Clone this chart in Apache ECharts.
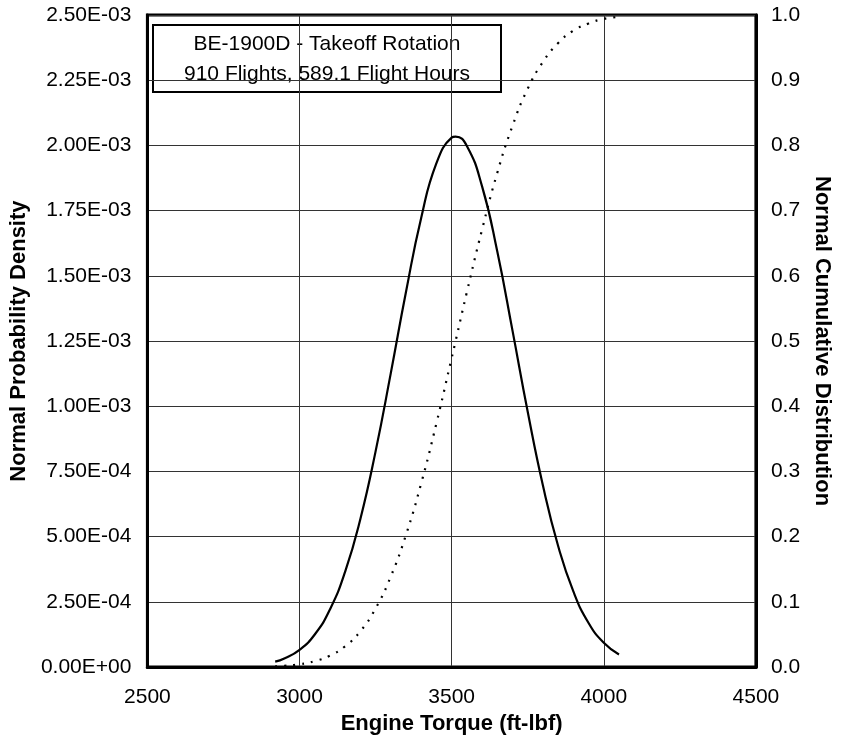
<!DOCTYPE html>
<html>
<head>
<meta charset="utf-8">
<script src="https://cdn.jsdelivr.net/npm/echarts@6/dist/echarts.min.js"></script>
<style>html,body{margin:0;padding:0;background:#fff;}#c{width:841px;height:740px;}</style>
</head>
<body>
<div id="c"></div>
<script>
// Engine torque sample points (ft-lbf)
const torque = [2920, 2950, 3000, 3050, 3100, 3150, 3200, 3250, 3300, 3350, 3400, 3450, 3500, 3513, 3550, 3600, 3650, 3700, 3750, 3800, 3850, 3900, 3950, 4000, 4050];
// Normal probability density
const pdf = [2.1e-5, 3.3e-5, 6.6e-5, 1.25e-4, 2.21e-4, 3.66e-4, 5.68e-4, 8.27e-4, 1.127e-3, 1.439e-3, 1.723e-3, 1.932e-3, 2.030e-3, 2.034e-3, 1.998e-3, 1.843e-3, 1.593e-3, 1.290e-3, 9.79e-4, 6.96e-4, 4.64e-4, 2.90e-4, 1.69e-4, 9.3e-5, 4.8e-5];
// Normal cumulative distribution
const cdf = [0.0012, 0.0020, 0.0044, 0.0091, 0.0176, 0.032, 0.055, 0.090, 0.139, 0.203, 0.282, 0.374, 0.474, 0.500, 0.575, 0.671, 0.758, 0.830, 0.887, 0.928, 0.957, 0.976, 0.987, 0.994, 0.997];
const boxLines = ['BE-1900D - Takeoff Rotation', '910 Flights, 589.1 Flight Hours'];

function sci(v) {
  if (Math.abs(v) < 1e-12) return '0.00E+00';
  const s = v.toExponential(2);
  const parts = s.split('e');
  const n = parseInt(parts[1], 10);
  return parts[0] + 'E' + (n < 0 ? '-' : '+') + String(Math.abs(n)).padStart(2, '0');
}

const FONT = '"Liberation Sans", Arial, sans-serif';
const TICK = 21;
const TITLE = 22;
const chart = echarts.init(document.getElementById('c'), null, {renderer: 'canvas'});
chart.setOption({
  animation: false,
  backgroundColor: '#fff',
  textStyle: {fontFamily: FONT},
  grid: {left: 144, right: 78, top: 15, bottom: 70, show: true, borderColor: '#000', borderWidth: 3, backgroundColor: 'transparent'},
  xAxis: {
    type: 'value', min: 2500, max: 4500, interval: 500,
    name: 'Engine Torque (ft-lbf)', nameLocation: 'middle', nameGap: 42,
    nameTextStyle: {fontFamily: FONT, fontWeight: 'bold', fontSize: TITLE, color: '#000'},
    axisLine: {show: true, lineStyle: {color: '#000', width: 3}},
    axisTick: {show: false},
    axisLabel: {fontFamily: FONT, fontSize: TICK, color: '#000', margin: 20, formatter: v => String(v)},
    splitLine: {show: true, lineStyle: {color: '#333', width: 1}}
  },
  yAxis: [{
    type: 'value', min: 0, max: 0.0025, interval: 0.00025, position: 'left',
    name: 'Normal Probability Density', nameLocation: 'middle', nameGap: 110,
    nameTextStyle: {fontFamily: FONT, fontWeight: 'bold', fontSize: TITLE, color: '#000'},
    axisLine: {show: true, lineStyle: {color: '#000', width: 3}},
    axisTick: {show: false},
    axisLabel: {fontFamily: FONT, fontSize: TICK, color: '#000', margin: 16, formatter: sci},
    splitLine: {show: true, lineStyle: {color: '#333', width: 1}}
  }, {
    type: 'value', min: 0, max: 1, interval: 0.1, position: 'right',
    name: 'Normal Cumulative Distribution', nameLocation: 'middle', nameGap: 50, nameRotate: -90,
    nameTextStyle: {fontFamily: FONT, fontWeight: 'bold', fontSize: TITLE, color: '#000'},
    axisLine: {show: true, lineStyle: {color: '#000', width: 3}},
    axisTick: {show: false},
    axisLabel: {fontFamily: FONT, fontSize: TICK, color: '#000', margin: 15, formatter: v => v.toFixed(1)},
    splitLine: {show: false}
  }],
  series: [{
    name: 'PDF', type: 'line', yAxisIndex: 0, smooth: true, symbol: 'none',
    data: torque.map((t, i) => [t, pdf[i]]),
    lineStyle: {color: '#000', width: 2.2}
  }, {
    name: 'CDF', type: 'line', yAxisIndex: 1, smooth: true, symbol: 'none',
    data: torque.map((t, i) => [t, cdf[i]]),
    lineStyle: {color: '#000', width: 2.2, type: [2, 7]}
  }],
  graphic: [{
    type: 'group', left: 152, top: 24, z: 100,
    children: [{
      type: 'rect', shape: {x: 0, y: 0, width: 348, height: 67},
      style: {fill: '#fff', stroke: '#000', lineWidth: 2}
    }, {
      type: 'text', x: 174, y: 19.5,
      style: {text: boxLines[0], fill: '#000', font: TICK + 'px ' + FONT, textAlign: 'center', textVerticalAlign: 'middle'}
    }, {
      type: 'text', x: 174, y: 49.5,
      style: {text: boxLines[1], fill: '#000', font: TICK + 'px ' + FONT, textAlign: 'center', textVerticalAlign: 'middle'}
    }]
  }]
});
</script>
</body>
</html>
